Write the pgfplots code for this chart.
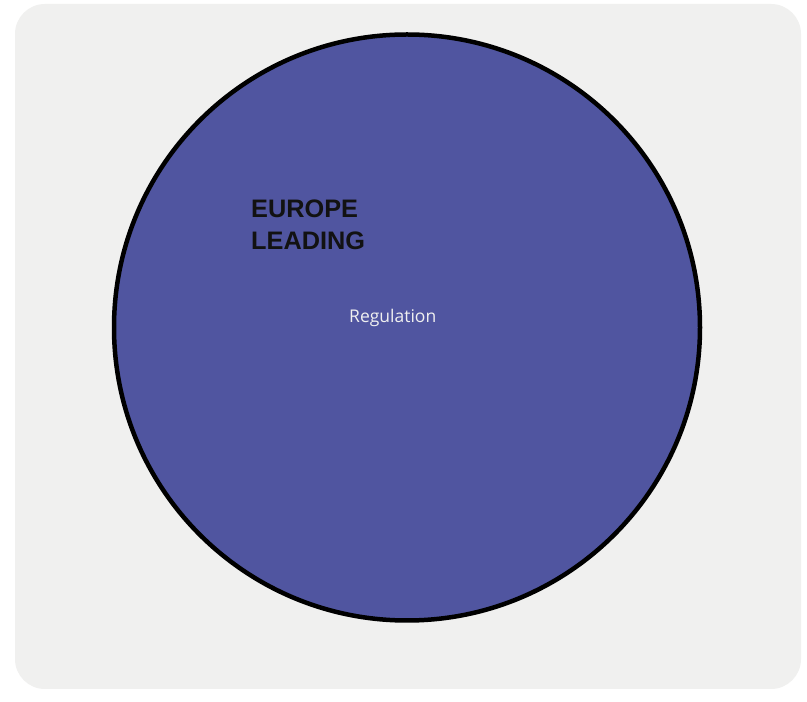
\documentclass[border=0pt]{standalone}
\usepackage{pgfplots}
\pgfplotsset{compat=1.18}
\usepackage{fontspec}
\setmainfont{Liberation Sans}
\newfontfamily\regfont{Open Sans}
\definecolor{bggray}{HTML}{F0F0EF}
\definecolor{circfill}{HTML}{5055A0}
\begin{document}
\begin{tikzpicture}
\begin{axis}[
  scale only axis, width=807pt, height=702pt,
  xmin=0, xmax=807, ymin=0, ymax=702,
  hide axis, clip=false,
]
\fill[white] (axis cs:0,0) rectangle (axis cs:807,702);
\fill[bggray, rounded corners=30pt] (axis cs:15,13) rectangle (axis cs:801,698);
% single category: Regulation = 100%
\addplot[only marks, mark=*, mark size=293pt,
  mark options={fill=circfill, draw=black, line width=4.5pt}]
  coordinates {(407,374.5)};
\coordinate (titlepos) at (axis cs:251,502);
\coordinate (regpos) at (axis cs:349,379);
\end{axis}
\node[anchor=north west, inner sep=0pt, align=left, text=black!93,
  font=\fontsize{25.3}{32}\selectfont\bfseries] at (titlepos) {EUROPE\\LEADING};
\node[anchor=base west, inner sep=0pt, text=white!94!black,
  font=\regfont\fontsize{17.5}{20}\selectfont] at (regpos) {Regulation};
\end{tikzpicture}
\end{document}
